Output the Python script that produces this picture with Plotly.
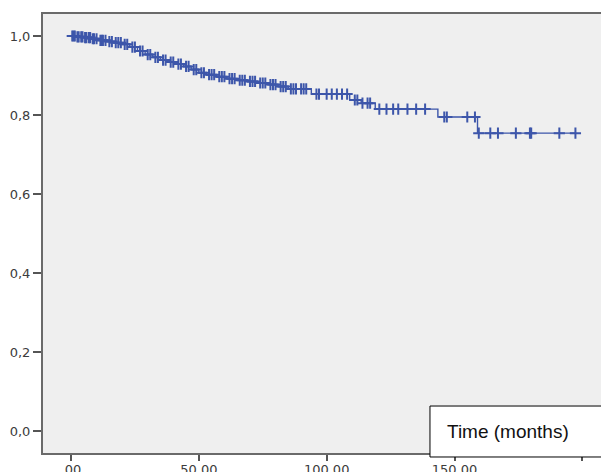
import plotly.graph_objects as go

# Kaplan-Meier estimate
event_times = [2, 5, 8, 11, 14, 17, 20, 23, 26, 29, 32, 35, 38, 41, 44, 47, 50, 53, 57,
               61, 65, 69, 73, 77, 81, 85, 94, 109, 113.5, 119, 143.5, 159]
event_surv = [0.998, 0.996, 0.993, 0.989, 0.986, 0.983, 0.979, 0.972, 0.962, 0.953,
              0.946, 0.939, 0.934, 0.929, 0.923, 0.915, 0.907, 0.902, 0.897, 0.892,
              0.888, 0.885, 0.881, 0.877, 0.872, 0.866, 0.853, 0.838, 0.830, 0.815,
              0.795, 0.754]
censor_times = [0.5, 1, 1.5, 2.5, 3, 4, 4.5, 5.5, 6, 7, 7.5, 8.5, 9, 10, 11.5, 12, 12.5,
                13.5, 15, 16, 17.5, 18.5, 19.5, 21, 22, 24, 25, 27, 28, 30, 31, 33, 34,
                36, 37, 39, 40, 42, 43, 45, 46, 48, 49, 51, 52, 54, 55, 56, 58, 59, 60,
                62, 63, 64, 66, 67, 68, 70, 71, 72, 74, 75, 76, 78, 79, 80, 82, 83, 84,
                86, 87, 88, 90, 91, 92, 96, 97, 100, 102, 104, 106, 108, 111, 112, 114,
                116, 117, 120.6, 123.4, 126, 128, 131.6, 135, 138.5, 146, 147, 155, 158,
                159.5, 164, 167, 174, 179.5, 180, 191, 197.3]

x_tickvals = [0, 50, 100, 150, 200]
x_ticktext = [".00", "50.00", "100.00", "150.00", "200.00"]
y_tickvals = [0.0, 0.2, 0.4, 0.6, 0.8, 1.0]
y_ticktext = ["0,0", "0,2", "0,4", "0,6", "0,8", "1,0"]
box_label = "Time (months)"

BLUE = "#3d56aa"


def surv_at(t):
    s = 1.0
    for et, es in zip(event_times, event_surv):
        if et <= t:
            s = es
    return s


end_time = max(censor_times)
line_x = [0] + event_times + [end_time]
line_y = [1.0] + event_surv + [event_surv[-1]]

cens_y = [surv_at(t) for t in censor_times]

fig = go.Figure()
fig.add_trace(go.Scatter(x=line_x, y=line_y, mode="lines", line_shape="hv",
                         line=dict(color=BLUE, width=1.4), hoverinfo="skip",
                         showlegend=False))
fig.add_trace(go.Scatter(x=censor_times, y=cens_y, mode="markers",
                         marker=dict(symbol="cross-thin", size=8,
                                     line=dict(color=BLUE, width=2)),
                         showlegend=False))

fig.update_layout(
    width=601, height=472, template="none",
    margin=dict(l=43, r=0, t=14, b=19, pad=0),
    paper_bgcolor="white", plot_bgcolor="#efefef",
    font=dict(family="DejaVu Sans", size=13, color="#3c3c3c"),
    xaxis=dict(range=[-10.95, 207.3], tickvals=x_tickvals, ticktext=x_ticktext,
               showgrid=False, zeroline=False, showline=True, mirror=True,
               linecolor="#6a6a6a", linewidth=2, ticks="outside", ticklen=6,
               tickwidth=2, tickcolor="#555555", automargin=False,
               ticklabelstandoff=-3),
    yaxis=dict(range=[-0.0557, 1.0557], tickvals=y_tickvals, ticktext=y_ticktext,
               showgrid=False, zeroline=False, showline=True, mirror=False,
               linecolor="#6a6a6a", linewidth=2, ticks="outside", ticklen=8,
               tickwidth=2, tickcolor="#555555", automargin=False),
)

# label box at lower right
fig.add_shape(type="rect", xref="paper", yref="paper", x0=0.6935, x1=1.05,
              y0=-0.0091, y1=0.107, fillcolor="white",
              line=dict(color="black", width=1), layer="above")
fig.add_annotation(xref="paper", yref="paper", x=0.721, y=0.05, xanchor="left",
                   yanchor="middle", text=box_label, showarrow=False,
                   font=dict(family="Liberation Sans", size=19, color="#111111"))

fig.write_html("out.html")
